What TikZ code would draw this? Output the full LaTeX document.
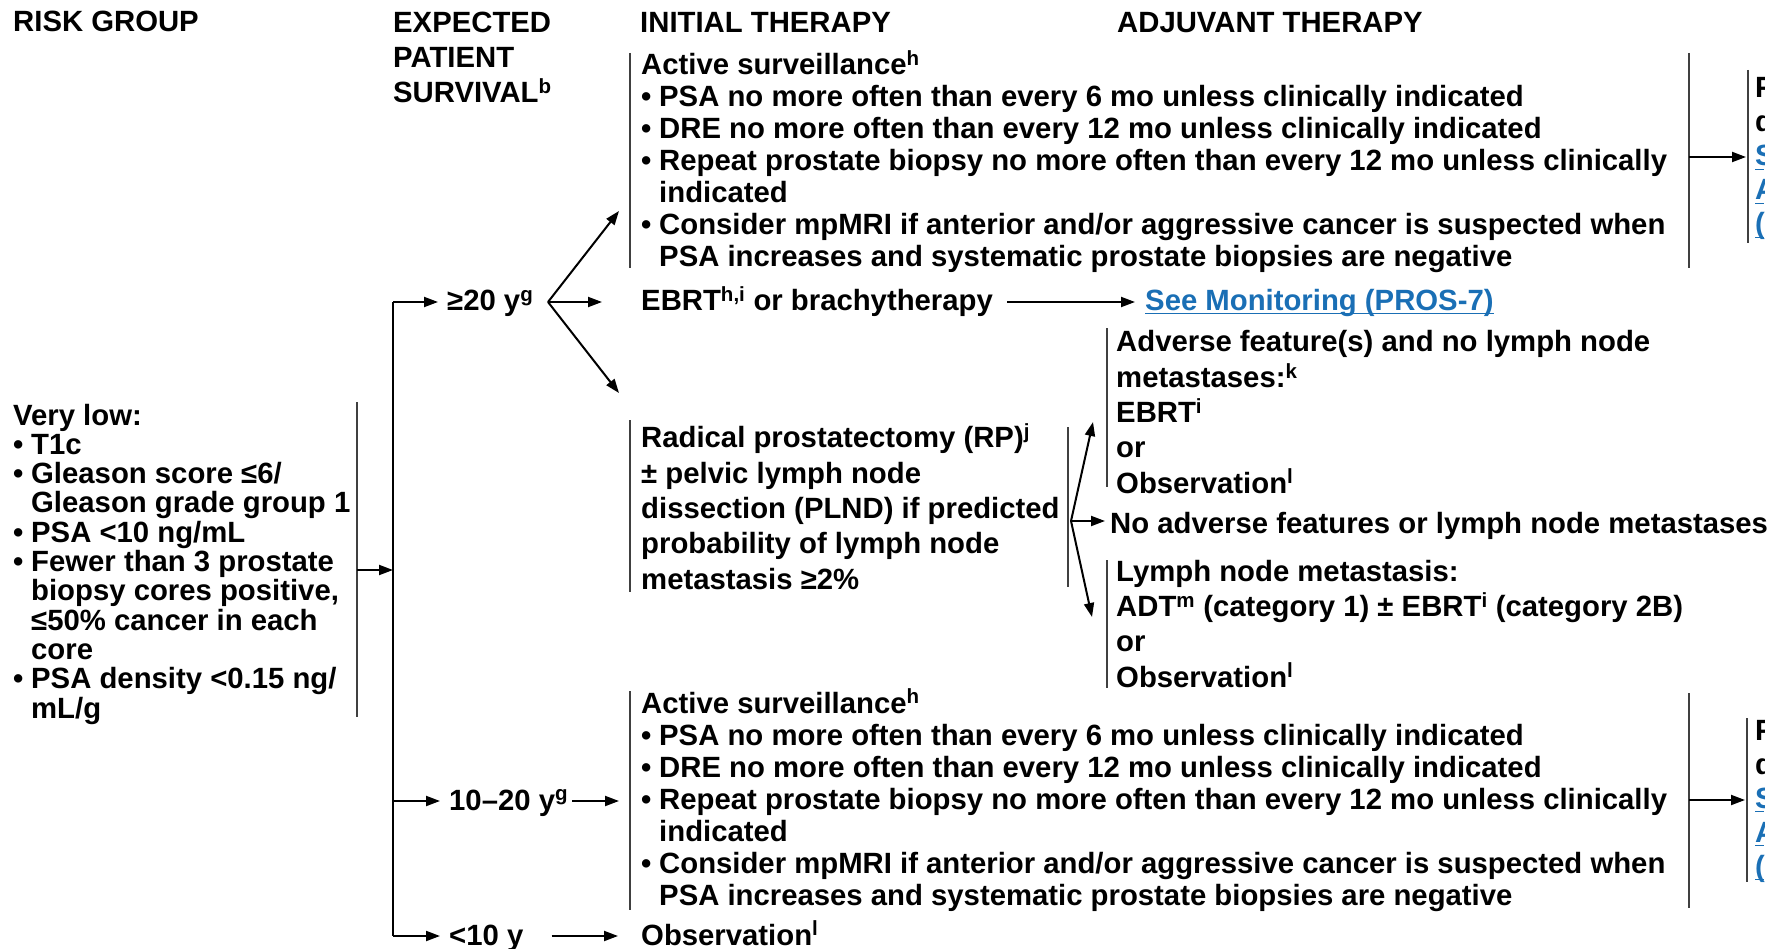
\documentclass[tikz,border=0pt]{standalone}
\usepackage{fontspec}
\setmainfont{Liberation Sans}
\usetikzlibrary{arrows.meta, positioning, calc}
\definecolor{linkblue}{HTML}{1A6FB5}
\definecolor{bargray}{HTML}{404040}

% bullet with hanging indent
\newcommand{\pbul}{\makebox[18pt][l]{\textbullet}}
\newcommand{\pind}{\hspace*{18pt}}

\begin{document}
\begin{tikzpicture}[
    x=1pt, y=-1pt,
    % multi-line nodes sit on the baseline of their last line
    txt/.style={anchor=base west, inner sep=0pt, align=left, font=\bfseries\fontsize{29.3}{32}\selectfont},
    wide/.style={txt, font=\bfseries\fontsize{29.3}{35.3}\selectfont},
    tight/.style={txt, font=\bfseries\fontsize{29.3}{29.3}\selectfont},
    link/.style={txt, text=linkblue},
    bar/.style={draw=bargray, line width=2.4pt},
    ln/.style={line width=2pt},
    arr/.style={-{Triangle[length=14pt, width=10pt]}, line width=2pt}
]
\useasboundingbox (0,0) rectangle (1776,949);

% column heads
\node[txt] (risk) at (13,32) {RISK GROUP};
\node[wide] (surv) at (393,103) {EXPECTED\\PATIENT\\SURVIVAL\textsuperscript{b}};
\node[txt] (init) at (640,33) {INITIAL THERAPY};
\node[txt] (adj) at (1117,33) {ADJUVANT THERAPY};

% risk group
\node[tight] (vlow) at (13,718) {Very low:\\
    \pbul T1c\\
    \pbul Gleason score ≤6/\\
    \pind Gleason grade group 1\\
    \pbul PSA <10 ng/mL\\
    \pbul Fewer than 3 prostate\\
    \pind biopsy cores positive,\\
    \pind ≤50\% cancer in each\\
    \pind core\\
    \pbul PSA density <0.15 ng/\\
    \pind mL/g};

% expected survival
\node[txt] (age20) at (447,311) {≥20 y\textsuperscript{g}};
\node[txt] (age1020) at (449,810) {10–20 y\textsuperscript{g}};
\node[txt] (age10) at (449,945) {<10 y};

% initial therapy
\node[txt] (as1) at (641,267) {Active surveillance\textsuperscript{h}\\
    \pbul PSA no more often than every 6 mo unless clinically indicated\\
    \pbul DRE no more often than every 12 mo unless clinically indicated\\
    \pbul Repeat prostate biopsy no more often than every 12 mo unless clinically\\
    \pind indicated\\
    \pbul Consider mpMRI if anterior and/or aggressive cancer is suspected when\\
    \pind PSA increases and systematic prostate biopsies are negative};
\node[txt] (ebrt) at (641,311) {EBRT\textsuperscript{h,i} or brachytherapy};
\node[link] (seemon) at (1145,310) {See Monitoring (PROS-7)};
\node[wide] (rp) at (641,589) {Radical prostatectomy (RP)\textsuperscript{j}\\
    ± pelvic lymph node\\
    dissection (PLND) if predicted\\
    probability of lymph node\\
    metastasis ≥2\%};
\node[txt] (as2) at (641,905) {Active surveillance\textsuperscript{h}\\
    \pbul PSA no more often than every 6 mo unless clinically indicated\\
    \pbul DRE no more often than every 12 mo unless clinically indicated\\
    \pbul Repeat prostate biopsy no more often than every 12 mo unless clinically\\
    \pind indicated\\
    \pbul Consider mpMRI if anterior and/or aggressive cancer is suspected when\\
    \pind PSA increases and systematic prostate biopsies are negative};
\node[txt] (obs) at (641,945) {Observation\textsuperscript{l}};

% adjuvant therapy
\node[wide] (adv) at (1116,493) {Adverse feature(s) and no lymph node\\
    metastases:\textsuperscript{k}\\
    EBRT\textsuperscript{i}\\
    or\\
    Observation\textsuperscript{l}};
\node[txt] (noadv) at (1110,533) {No adverse features or lymph node metastases};
\node[wide] (lymph) at (1116,687) {Lymph node metastasis:\\
    ADT\textsuperscript{m} (category 1) ± EBRT\textsuperscript{i} (category 2B)\\
    or\\
    Observation\textsuperscript{l}};

\draw[linkblue, line width=1.6pt] ($(seemon.base west)+(0,3.5)$) -- ($(seemon.base east)+(0,3.5)$);

% cut-off column on the right
\begin{scope}
    \clip (1750,0) rectangle (1764,949);
    \foreach \yy/\nm in {98/top, 740/bot} {
        \node[txt, font=\bfseries\fontsize{29.3}{34}\selectfont] (prog\nm) at (1755,\yy+34) {P\\d};
        \node[link, font=\bfseries\fontsize{29.3}{34}\selectfont] (see\nm) at (1755,\yy+136) {S\\A\\(};
        \foreach \k in {0,1,2}
            \draw[linkblue, line width=1.6pt] (1755,\yy+71.5+34*\k) -- (1764,\yy+71.5+34*\k);
    }
\end{scope}

% brackets
\foreach \bx/\ya/\yb in {357/402/717, 630/53/268, 1689/53/268, 1748/70/243,
                         630/420/592, 1068/427/587, 1107/328/487, 1107/560/688,
                         630/691/910, 1689/693/908, 1747/718/882}
    \draw[bar] (\bx,\ya) -- (\bx,\yb);

% connector points
\coordinate (vlowout) at (357,570);
\coordinate (tr20) at (393,302);
\coordinate (tr1020) at (393,801);
\coordinate (tr10) at (393,936);
\coordinate (f20) at (548,302);
\coordinate (as1in) at (619,211);
\coordinate (rpin) at (619,393);
\coordinate (as2in) at (619,801);
\coordinate (frp) at (1071,521);
\coordinate (advin) at (1093,422);
\coordinate (lymphin) at (1092,617);
\coordinate (as1out) at (1689,157);
\coordinate (next1) at (1746,157);
\coordinate (as2out) at (1689,800);
\coordinate (next2) at (1745,800);

% trunk and branches
\draw[ln] (tr20) -- (tr10);
\draw[arr] (vlowout) -- (vlowout -| tr20);
\draw[arr] (tr20) -- ($(age20.base west)+(-9,-9)$);
\draw[arr] (tr1020) -- ($(age1020.base west)+(-9,-9)$);
\draw[arr] (tr10) -- ($(age10.base west)+(-9,-9)$);

% from >=20 y
\draw[arr] (f20) -- (as1in);
\draw[arr] (f20) -- ($(ebrt.base west)+(-39,-9)$);
\draw[arr] (f20) -- (rpin);
\draw[arr] ($(ebrt.base east)+(14,-9)$) -- ($(seemon.base west)+(-10,-8)$);

% from 10-20 y and <10 y
\draw[arr] ($(age1020.base east)+(4,-9)$) -- (as2in);
\draw[arr] ($(age10.base east)+(28,-9)$) -- ($(obs.base west)+(-23,-9)$);

% after RP
\draw[arr] (frp) -- (advin);
\draw[arr] (frp) -- ($(noadv.base west)+(-5,-12)$);
\draw[arr] (frp) -- (lymphin);

% right column
\draw[arr] (as1out) -- (next1);
\draw[arr] (as2out) -- (next2);

\end{tikzpicture}
\end{document}
